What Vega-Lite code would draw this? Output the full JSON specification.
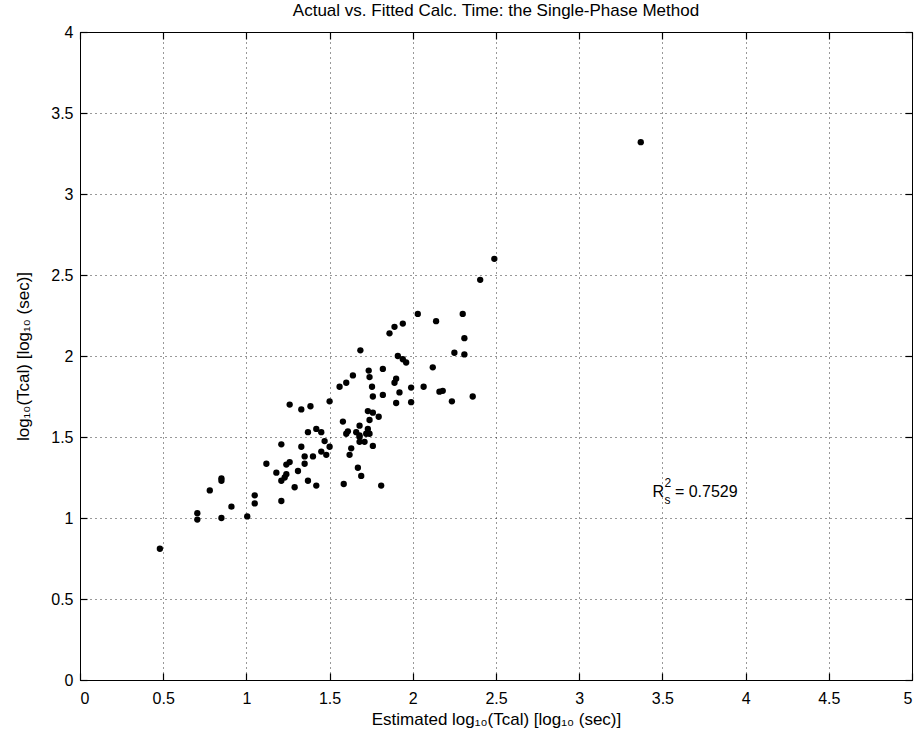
{
  "$schema": "https://vega.github.io/schema/vega-lite/v6.json",
  "width": 832,
  "height": 648,
  "autosize": {"type": "none"},
  "padding": {"left": 80, "top": 32, "right": 5, "bottom": 59},
  "background": "white",
  "title": {
    "text": "Actual vs. Fitted Calc. Time: the Single-Phase Method",
    "font": "Liberation Sans",
    "fontSize": 17,
    "fontWeight": "normal",
    "color": "black",
    "anchor": "middle",
    "offset": 4
  },
  "config": {
    "view": {"stroke": "black", "strokeWidth": 1},
    "font": "Liberation Sans",
    "axis": {
      "labelFont": "Liberation Sans",
      "titleFont": "Liberation Sans",
      "labelFontSize": 16,
      "titleFontSize": 17,
      "titleFontWeight": "normal",
      "labelColor": "black",
      "titleColor": "black",
      "domainColor": "black",
      "tickColor": "black",
      "tickWidth": 1.2
    }
  },
  "datasets": {
    "points": [
      {"est": 0.48, "act": 0.81}, {"est": 0.705, "act": 1.03}, {"est": 0.705, "act": 0.99},
      {"est": 0.78, "act": 1.17}, {"est": 0.85, "act": 1.23}, {"est": 0.85, "act": 1.245},
      {"est": 0.85, "act": 1.0}, {"est": 0.91, "act": 1.07}, {"est": 1.005, "act": 1.01},
      {"est": 1.05, "act": 1.14}, {"est": 1.05, "act": 1.09}, {"est": 1.12, "act": 1.335},
      {"est": 1.18, "act": 1.28}, {"est": 1.21, "act": 1.455}, {"est": 1.21, "act": 1.23},
      {"est": 1.21, "act": 1.105}, {"est": 1.24, "act": 1.33}, {"est": 1.26, "act": 1.345},
      {"est": 1.24, "act": 1.27}, {"est": 1.23, "act": 1.25}, {"est": 1.29, "act": 1.19},
      {"est": 1.31, "act": 1.29}, {"est": 1.33, "act": 1.44}, {"est": 1.35, "act": 1.38},
      {"est": 1.35, "act": 1.335}, {"est": 1.37, "act": 1.53}, {"est": 1.37, "act": 1.23},
      {"est": 1.4, "act": 1.38}, {"est": 1.42, "act": 1.55}, {"est": 1.45, "act": 1.53},
      {"est": 1.42, "act": 1.2}, {"est": 1.45, "act": 1.41}, {"est": 1.48, "act": 1.39},
      {"est": 1.47, "act": 1.475}, {"est": 1.5, "act": 1.44}, {"est": 1.26, "act": 1.7},
      {"est": 1.33, "act": 1.67}, {"est": 1.385, "act": 1.69}, {"est": 1.5, "act": 1.72},
      {"est": 1.58, "act": 1.595}, {"est": 1.6, "act": 1.52}, {"est": 1.61, "act": 1.535},
      {"est": 1.585, "act": 1.21}, {"est": 1.62, "act": 1.39}, {"est": 1.63, "act": 1.43},
      {"est": 1.66, "act": 1.53}, {"est": 1.68, "act": 1.57}, {"est": 1.68, "act": 1.51},
      {"est": 1.68, "act": 1.47}, {"est": 1.71, "act": 1.47}, {"est": 1.72, "act": 1.52},
      {"est": 1.73, "act": 1.55}, {"est": 1.74, "act": 1.52}, {"est": 1.76, "act": 1.445},
      {"est": 1.67, "act": 1.31}, {"est": 1.69, "act": 1.26}, {"est": 1.74, "act": 1.605},
      {"est": 1.73, "act": 1.66}, {"est": 1.76, "act": 1.65}, {"est": 1.795, "act": 1.625},
      {"est": 1.81, "act": 1.2}, {"est": 1.9, "act": 1.71}, {"est": 1.99, "act": 1.715},
      {"est": 2.03, "act": 2.26}, {"est": 2.14, "act": 2.215}, {"est": 1.86, "act": 2.14},
      {"est": 1.89, "act": 2.18}, {"est": 1.94, "act": 2.2}, {"est": 1.685, "act": 2.035},
      {"est": 1.91, "act": 2.0}, {"est": 1.94, "act": 1.98}, {"est": 1.96, "act": 1.96},
      {"est": 1.735, "act": 1.91}, {"est": 1.82, "act": 1.92}, {"est": 2.12, "act": 1.93},
      {"est": 1.64, "act": 1.88}, {"est": 1.6, "act": 1.835}, {"est": 1.56, "act": 1.81},
      {"est": 1.74, "act": 1.87}, {"est": 1.9, "act": 1.86}, {"est": 1.89, "act": 1.835},
      {"est": 1.755, "act": 1.81}, {"est": 1.99, "act": 1.805}, {"est": 2.065, "act": 1.81},
      {"est": 2.16, "act": 1.78}, {"est": 1.76, "act": 1.75}, {"est": 1.82, "act": 1.76},
      {"est": 1.92, "act": 1.775}, {"est": 2.49, "act": 2.6}, {"est": 2.405, "act": 2.47},
      {"est": 2.3, "act": 2.26}, {"est": 2.31, "act": 2.11}, {"est": 2.25, "act": 2.02},
      {"est": 2.31, "act": 2.01}, {"est": 2.18, "act": 1.785}, {"est": 2.36, "act": 1.75},
      {"est": 2.235, "act": 1.72}, {"est": 3.37, "act": 3.32}, {"est": 1.68, "act": 1.5}
    ],
    "note": [
      {"x": 3.44, "y": 1.16, "t": "R", "size": 16},
      {"x": 3.513, "y": 1.215, "t": "2", "size": 12},
      {"x": 3.513, "y": 1.11, "t": "s", "size": 12},
      {"x": 3.575, "y": 1.16, "t": "= 0.7529", "size": 16}
    ]
  },
  "layer": [
    {
      "data": {"name": "points"},
      "mark": {"type": "circle", "size": 40, "color": "black", "opacity": 1},
      "encoding": {
        "x": {
          "field": "est", "type": "quantitative",
          "scale": {"domain": [0, 5], "nice": false, "zero": false},
          "axis": {
            "title": "Estimated log₁₀(Tcal) [log₁₀ (sec)]",
            "values": [0, 0.5, 1, 1.5, 2, 2.5, 3, 3.5, 4, 4.5, 5],
            "format": "~g",
            "grid": true, "gridColor": "black", "gridDash": [1, 4], "gridOpacity": 0.8,
            "tickSize": -7, "labelPadding": 17, "titlePadding": 5,
            "domain": true
          }
        },
        "y": {
          "field": "act", "type": "quantitative",
          "scale": {"domain": [0, 4], "nice": false, "zero": false},
          "axis": {
            "title": "log₁₀(Tcal) [log₁₀ (sec)]",
            "values": [0, 0.5, 1, 1.5, 2, 2.5, 3, 3.5, 4],
            "format": "~g",
            "grid": true, "gridColor": "black", "gridDash": [1, 4], "gridOpacity": 0.8,
            "tickSize": -7, "labelPadding": 14, "titlePadding": 18,
            "domain": true
          }
        }
      }
    },
    {
      "data": {"name": "points"},
      "mark": {"type": "circle", "opacity": 0},
      "encoding": {
        "x": {
          "field": "est", "type": "quantitative",
          "scale": {"domain": [0, 5], "nice": false, "zero": false},
          "axis": {"orient": "top", "title": null, "labels": false, "grid": false,
                   "values": [0, 0.5, 1, 1.5, 2, 2.5, 3, 3.5, 4, 4.5, 5], "tickSize": -7}
        },
        "y": {
          "field": "act", "type": "quantitative",
          "scale": {"domain": [0, 4], "nice": false, "zero": false},
          "axis": {"orient": "right", "title": null, "labels": false, "grid": false,
                   "values": [0, 0.5, 1, 1.5, 2, 2.5, 3, 3.5, 4], "tickSize": -7}
        }
      }
    },
    {
      "data": {"name": "note"},
      "mark": {"type": "text", "align": "left", "baseline": "middle", "color": "black", "font": "Liberation Sans"},
      "encoding": {
        "x": {"field": "x", "type": "quantitative", "scale": {"domain": [0, 5], "nice": false, "zero": false}, "axis": null},
        "y": {"field": "y", "type": "quantitative", "scale": {"domain": [0, 4], "nice": false, "zero": false}, "axis": null},
        "text": {"field": "t"},
        "size": {"field": "size", "type": "quantitative", "scale": null}
      }
    }
  ],
  "resolve": {"axis": {"x": "independent", "y": "independent"}}
}
